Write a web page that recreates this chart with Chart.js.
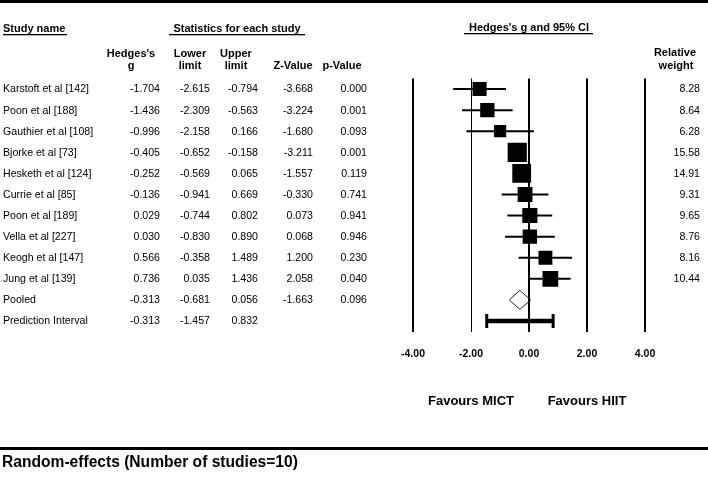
<!DOCTYPE html>
<html><head><meta charset="utf-8">
<script src="https://cdn.jsdelivr.net/npm/chart.js@4.4.1/dist/chart.umd.min.js"></script>
<style>html,body{margin:0;padding:0;background:#fff}#wrap{width:708px;height:479px;position:relative}</style>
</head><body><div id="wrap"><canvas id="c"></canvas></div>
<script>
const studyNames = ['Karstoft et al [142]','Poon et al [188]','Gauthier et al [108]','Bjorke et al [73]','Hesketh et al [124]','Currie et al [85]','Poon et al [189]','Vella et al [227]','Keogh et al [147]','Jung et al [139]'];
const hedgesG   = [-1.704,-1.436,-0.996,-0.405,-0.252,-0.136,0.029,0.030,0.566,0.736];
const lowerLim  = [-2.615,-2.309,-2.158,-0.652,-0.569,-0.941,-0.744,-0.830,-0.358,0.035];
const upperLim  = [-0.794,-0.563,0.166,-0.158,0.065,0.669,0.802,0.890,1.489,1.436];
const zValues   = [-3.668,-3.224,-1.680,-3.211,-1.557,-0.330,0.073,0.068,1.200,2.058];
const pValues   = [0.000,0.001,0.093,0.001,0.119,0.741,0.941,0.946,0.230,0.040];
const relWeight = [8.28,8.64,6.28,15.58,14.91,9.31,9.65,8.76,8.16,10.44];
const pooledStats = [-0.313,-0.681,0.056,-1.663,0.096];      // g, lower, upper, Z, p
const predInterval = [-0.313,-1.457,0.832];                   // g, lower, upper
const xTickValues = [-4,-2,0,2,4];
const xTickLabels = ['-4.00','-2.00','0.00','2.00','4.00'];

const FONT = '"Liberation Sans", Arial, Helvetica, sans-serif';
const nStudies = studyNames.length;
const pooledRow = nStudies, predRow = nStudies + 1;

// datasets built from arrays
const boxData = hedgesG.map((g,i)=>({x:g,y:i}));
const boxRadius = relWeight.map(w => 4.865*Math.sqrt(w)/Math.SQRT2);
const ciData = [];
lowerLim.forEach((lo,i)=>{ ciData.push({x:lo,y:i},{x:upperLim[i],y:i},{x:null,y:null}); });
const dh = 0.45;
const diamondData = [
  {x:pooledStats[1],y:pooledRow},{x:pooledStats[0],y:pooledRow-dh},
  {x:pooledStats[2],y:pooledRow},{x:pooledStats[0],y:pooledRow+dh},
  {x:pooledStats[1],y:pooledRow}];
const predBar = [{x:predInterval[1],y:predRow},{x:predInterval[2],y:predRow}];
const ch = 0.33;
const predCaps = [{x:predInterval[1],y:predRow-ch},{x:predInterval[1],y:predRow+ch},{x:null,y:null},
                  {x:predInterval[2],y:predRow-ch},{x:predInterval[2],y:predRow+ch}];

const tablePlugin = {
  id:'table',
  afterDraw(chart){
    const {ctx} = chart; const x = chart.scales.x, y = chart.scales.y;
    ctx.save();
    ctx.fillStyle = '#000';
    ctx.fillRect(0,0,708,3);
    ctx.fillRect(0,447,708,3);
    ctx.textBaseline = 'middle';
    const bold = s => `bold ${s}px ${FONT}`;
    const reg = s => `${s}px ${FONT}`;
    const txt = (t,px,py,align,font)=>{ctx.font=font;ctx.textAlign=align;ctx.fillText(t,px,py);};
    // headers
    txt('Study name',3,29,'left',bold(11));
    ctx.fillRect(3,34,64,1.3);
    txt('Statistics for each study',237,29,'center',bold(11));
    ctx.fillRect(169,34,136,1.3);
    txt("Hedges's g and 95% CI",529,28,'center',bold(11));
    ctx.fillRect(464,33,129,1.3);
    txt("Hedges's",131,54,'center',bold(11)); txt('g',131,66,'center',bold(11));
    txt('Lower',190,54,'center',bold(11)); txt('limit',190,66,'center',bold(11));
    txt('Upper',236,54,'center',bold(11)); txt('limit',236,66,'center',bold(11));
    txt('Z-Value',293,66,'center',bold(11));
    txt('p-Value',342,66,'center',bold(11));
    txt('Relative',675,53,'center',bold(11)); txt('weight',676,66,'center',bold(11));
    const colR = [160,210,258,313,367];
    for(let i=0;i<nStudies;i++){
      const py = y.getPixelForValue(i)+0.5;
      txt(studyNames[i],3,py,'left',reg(10.6));
      [hedgesG[i],lowerLim[i],upperLim[i],zValues[i],pValues[i]].forEach((v,k)=>txt(v.toFixed(3),colR[k],py,'right',reg(10.6)));
      txt(relWeight[i].toFixed(2),700,py,'right',reg(10.6));
    }
    let py = y.getPixelForValue(pooledRow)+0.5;
    txt('Pooled',3,py,'left',reg(10.6));
    pooledStats.forEach((v,k)=>txt(v.toFixed(3),colR[k],py,'right',reg(10.6)));
    py = y.getPixelForValue(predRow)+0.5;
    txt('Prediction Interval',3,py,'left',reg(10.6));
    predInterval.forEach((v,k)=>txt(v.toFixed(3),colR[k],py,'right',reg(10.6)));
    txt('Favours MICT',x.getPixelForValue(-2),401,'center',bold(13));
    txt('Favours HIIT',x.getPixelForValue(2),401,'center',bold(13));
    txt('Random-effects (Number of studies=10)',2,463,'left',bold(15.6));
    ctx.restore();
  }
};

new Chart(document.getElementById('c'),{
  type:'scatter',
  data:{datasets:[
    {data:boxData,pointStyle:'rect',pointRadius:boxRadius,pointHoverRadius:boxRadius,backgroundColor:'#000',borderWidth:0,showLine:false,order:0},
    {data:ciData,showLine:true,borderColor:'#000',borderWidth:2,pointRadius:0,spanGaps:false,order:1},
    {data:diamondData,showLine:true,borderColor:'#222',borderWidth:1,pointRadius:0,fill:false,order:2},
    {data:predBar,showLine:true,borderColor:'#000',borderWidth:4.5,pointRadius:0,order:3},
    {data:predCaps,showLine:true,borderColor:'#000',borderWidth:3,pointRadius:0,spanGaps:false,order:4}
  ]},
  options:{
    responsive:true,maintainAspectRatio:false,animation:false,
    events:[],
    layout:{padding:{left:413,right:63,top:78.5,bottom:117.5}},
    plugins:{legend:{display:false},tooltip:{enabled:false}},
    elements:{line:{tension:0}},
    scales:{
      x:{type:'linear',min:-4,max:4,
        afterBuildTicks:(s)=>{s.ticks=xTickValues.map(v=>({value:v}));},
        afterFit:(s)=>{s.height=30;},
        border:{display:false},
        grid:{color:'#000',lineWidth:(c)=>(c.tick && c.tick.value===-2)?1:2,drawTicks:false},
        ticks:{padding:16,color:'#000',font:{family:FONT,size:10.5,weight:'bold'},
          callback:(v,i)=>xTickLabels[i],maxRotation:0,autoSkip:false}
      },
      y:{type:'linear',min:-0.5,max:nStudies+1.5,reverse:true,display:false}
    }
  },
  plugins:[tablePlugin]
});
</script>
</body></html>
